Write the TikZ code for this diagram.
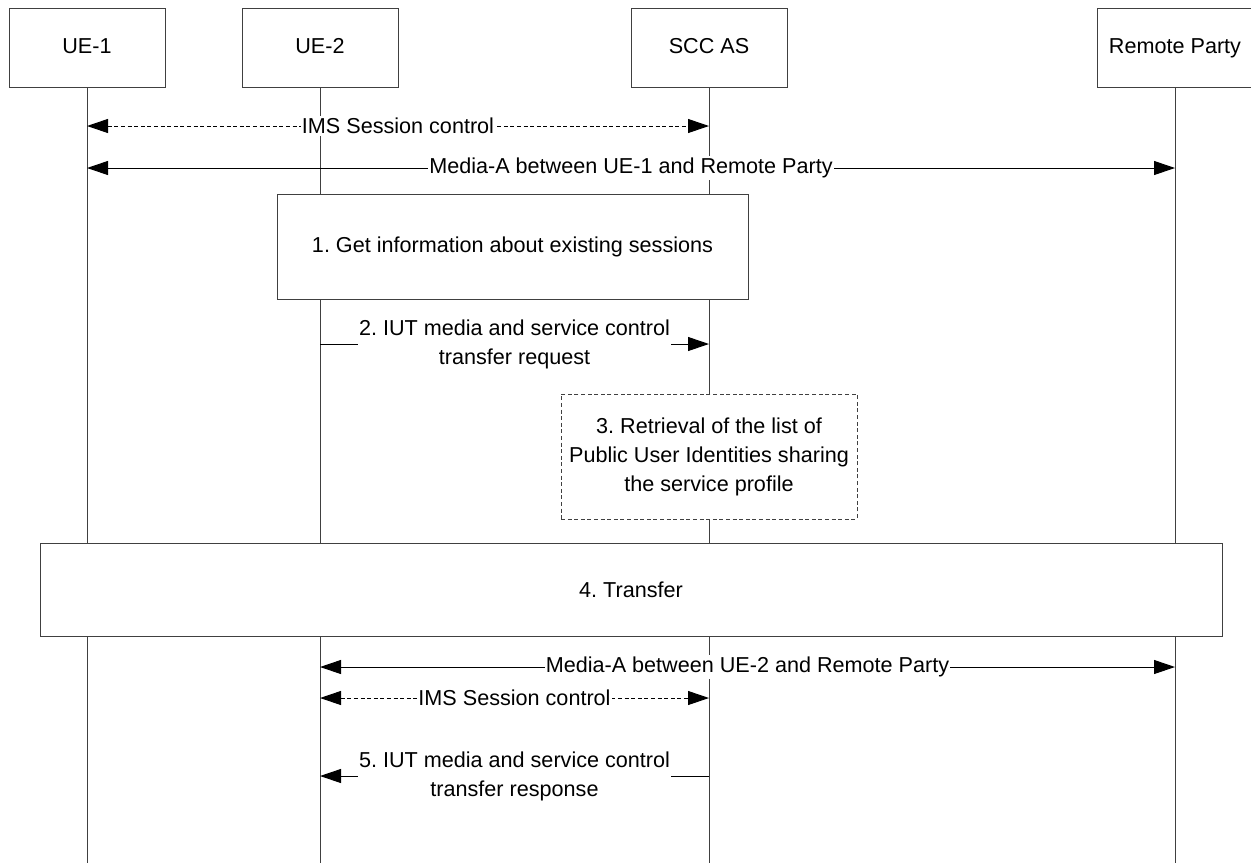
\documentclass[tikz,border=0pt]{standalone}
\usepackage{fontspec}
\setmainfont{Liberation Sans}
\usetikzlibrary{arrows.meta}
\frenchspacing

\begin{document}
\begin{tikzpicture}[x=0.5pt,y=-0.5pt,>={Triangle[length=10.5pt,width=7pt]},
  font=\fontsize{10.8}{14.5}\selectfont,
  entity/.style={draw=black!75,fill=white,minimum width=78pt,minimum height=39.5pt,inner sep=0pt,text height=7.8pt,text depth=2.3pt},
  procbox/.style={draw=black!75,fill=white,inner sep=0pt,align=center},
  life/.style={black!75,line width=0.5pt},
  msg/.style={line width=0.5pt},
  ctrl/.style={line width=0.5pt,dash pattern=on 2pt off 1.3pt},
  lbl/.style={fill=white,inner xsep=0.5pt,inner ysep=1pt,align=center}]
\useasboundingbox (0,0) rectangle (1251,863);
% entities
\node[entity] (ue1) at (87,47.5) {UE-1};
\node[entity] (ue2) at (320,47.5) {UE-2};
\node[entity] (scc) at (709,47.5) {SCC AS};
\node[entity] (rp) at (1175,47.5) {Remote Party};
% lifelines
\coordinate (bot) at (0,863);
\foreach \e in {ue1,ue2,scc,rp}
  \draw[life] (\e.south) -- (\e |- bot);
% message rows
\coordinate (r1) at (0,126);
\coordinate (r2) at (0,168);
\coordinate (r3) at (0,344);
\coordinate (r4) at (0,667);
\coordinate (r5) at (0,698);
\coordinate (r6) at (0,776);
\draw[ctrl,<->] (ue1 |- r1) -- node[lbl]{IMS Session control} (scc |- r1);
\draw[msg,<->] (ue1 |- r2) -- node[lbl]{Media-A between UE-1 and Remote Party} (rp |- r2);
% 1. existing sessions
\node[procbox,minimum width=235.5pt,minimum height=52.5pt] (getinfo) at (512.5,246.5)
  {1. Get information about existing sessions};
\draw[msg,->] (ue2 |- r3) -- node[lbl]{2. IUT media and service control\\transfer request} (scc |- r3);
% 3. retrieval
\node[procbox,dashed,dash pattern=on 2pt off 1.3pt,minimum width=148pt,minimum height=62.5pt] (retrieve) at (709,456.5)
  {3. Retrieval of the list of\\Public User Identities sharing\\the service profile};
% 4. transfer
\node[procbox,minimum width=591pt,minimum height=46.5pt] (transfer) at (631,589.5) {4. Transfer};
\draw[msg,<->] (ue2 |- r4) -- node[lbl]{Media-A between UE-2 and Remote Party} (rp |- r4);
\draw[ctrl,<->] (ue2 |- r5) -- node[lbl]{IMS Session control} (scc |- r5);
\draw[msg,->] (scc |- r6) -- node[lbl]{5. IUT media and service control\\transfer response} (ue2 |- r6);
\end{tikzpicture}
\end{document}
